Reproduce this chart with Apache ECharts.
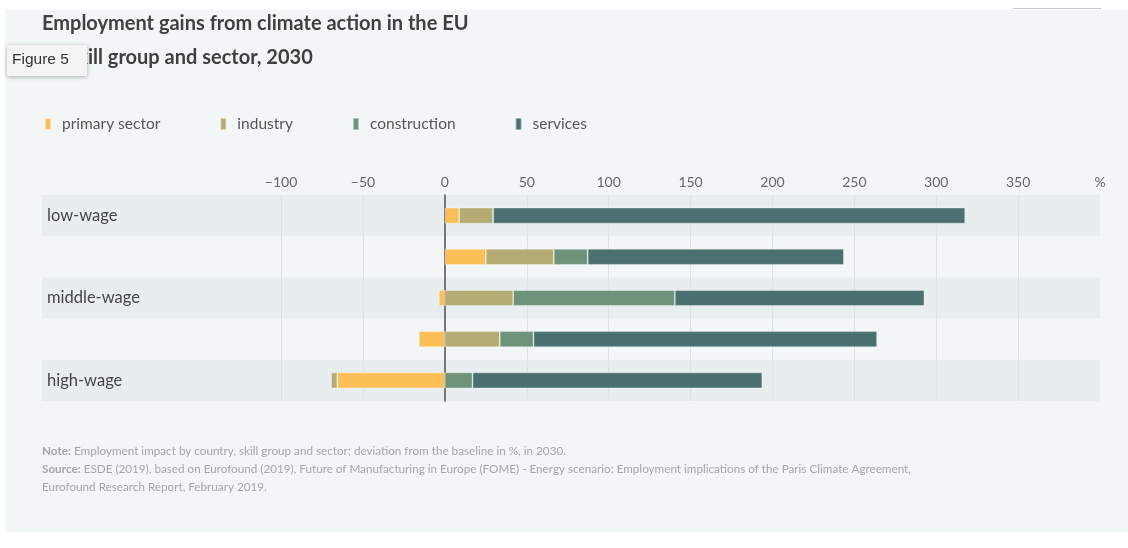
<!DOCTYPE html>
<html>
<head>
<meta charset="utf-8">
<script src="https://cdn.jsdelivr.net/npm/echarts@6/dist/echarts.min.js"></script>
<style>
  html, body { margin: 0; padding: 0; background: #ffffff; }
  #chart { width: 1128px; height: 548px; }
</style>
</head>
<body>
<div id="chart"></div>
<script>
// ---- data ----
var categories = ['low-wage', '', 'middle-wage', ' ', 'high-wage'];
var seriesNames = ['primary sector', 'industry', 'construction', 'services'];
var primarySector = [8.7, 25.0, -3.7, -15.9, -65.7];
var industry = [20.8, 41.5, 41.7, 33.5, -3.8];
var construction = [0, 20.7, 98.7, 20.6, 16.9];
var services = [288.2, 156.4, 152.4, 209.8, 176.9];
var gridTicks = [-100, -50, 0, 50, 100, 150, 200, 250, 300, 350];
var labelTicks = [-100, -50, 0, 50, 100, 150, 200, 250, 300, 350, 400];
var unitLabel = '%';

var colors = ['#fbbf55', '#b5ac73', '#6e927a', '#4a7070'];
var FONT = 'Lato, "Noto Sans", sans-serif';

var chart = echarts.init(document.getElementById('chart'), null, { renderer: 'canvas' });

function mkSeries(name, data, idx) {
  return {
    name: name,
    type: 'bar',
    stack: 'total',
    data: data,
    barWidth: 16,
    itemStyle: { color: colors[idx], borderColor: 'rgba(255,255,255,0.45)', borderWidth: 0.8 },
    emphasis: { disabled: true }
  };
}

var option = {
  animation: false,
  backgroundColor: '#ffffff',
  graphic: [
    { type: 'rect', left: 5, top: 10, z: -10, shape: { width: 1123, height: 522 }, style: { fill: '#f3f6f7' } },
    { type: 'rect', left: 1013, top: 8, z: -9, shape: { width: 88, height: 1 }, style: { fill: '#c8c8c8' } },
    { type: 'text', left: 42, top: 14, style: { text: 'Employment gains from climate action in the EU', font: 'bold 20px ' + FONT, fill: '#404040' } },
    { type: 'text', left: 42, top: 48, style: { text: 'by skill group and sector, 2030', font: 'bold 20px ' + FONT, fill: '#404040' } },
    { type: 'rect', left: 7, top: 45, z: 10, shape: { width: 80, height: 31, r: 1 },
      style: { fill: '#f4f4f4', shadowBlur: 4, shadowColor: 'rgba(0,0,0,0.3)', shadowOffsetY: 1 } },
    { type: 'text', left: 12, top: 52, z: 11, style: { text: 'Figure 5', font: '15.5px "Liberation Sans", Arial, sans-serif', fill: '#333333' } },
    { type: 'text', left: 42, top: 445, style: {
        text: '{b|Note:} Employment impact by country, skill group and sector; deviation from the baseline in %, in 2030.',
        font: '11.7px ' + FONT, fill: '#a3a6a8',
        rich: { b: { fontWeight: 'bold', fontSize: 11.7, fontFamily: FONT, fill: '#a3a6a8' } } } },
    { type: 'text', left: 42, top: 463, style: {
        text: '{b|Source:} ESDE (2019), based on Eurofound (2019), Future of Manufacturing in Europe (FOME) - Energy scenario: Employment implications of the Paris Climate Agreement,',
        font: '11.7px ' + FONT, fill: '#a3a6a8',
        rich: { b: { fontWeight: 'bold', fontSize: 11.7, fontFamily: FONT, fill: '#a3a6a8' } } } },
    { type: 'text', left: 42, top: 481, style: {
        text: 'Eurofound Research Report, February 2019.',
        font: '11.7px ' + FONT, fill: '#a3a6a8' } }
  ],
  legend: {
    left: 39,
    top: 111,
    icon: 'rect',
    itemWidth: 6,
    itemHeight: 12,
    itemGap: 59,
    data: seriesNames,
    textStyle: { fontFamily: FONT, fontSize: 15.5, color: '#555555', padding: [0, 0, 0, 6] }
  },
  grid: { left: 42, right: 28, top: 195, bottom: 147, containLabel: false },
  xAxis: {
    type: 'value',
    position: 'top',
    min: -246,
    max: 400,
    axisLine: { show: false },
    axisTick: { show: false, customValues: gridTicks },
    axisLabel: {
      customValues: labelTicks,
      margin: 6,
      fontFamily: FONT,
      fontSize: 14,
      color: '#666666',
      formatter: function (v) {
        if (v === 400) return unitLabel;
        return v < 0 ? '\u2212' + Math.abs(v) : String(v);
      }
    },
    splitLine: { show: true, lineStyle: { color: '#dde3e5', width: 1 } }
  },
  yAxis: {
    type: 'category',
    data: categories,
    inverse: true,
    axisTick: { show: false },
    axisLine: { show: true, onZero: true, lineStyle: { color: '#505050', width: 1.5 } },
    axisLabel: { align: 'left', margin: -5, fontFamily: FONT, fontSize: 16.5, color: '#454545' },
    splitArea: { show: true, areaStyle: { color: ['#e8eef0', 'rgba(0,0,0,0)'] } }
  },
  series: [
    mkSeries(seriesNames[0], primarySector, 0),
    mkSeries(seriesNames[1], industry, 1),
    mkSeries(seriesNames[2], construction, 2),
    mkSeries(seriesNames[3], services, 3)
  ]
};
chart.setOption(option);
</script>
</body>
</html>
